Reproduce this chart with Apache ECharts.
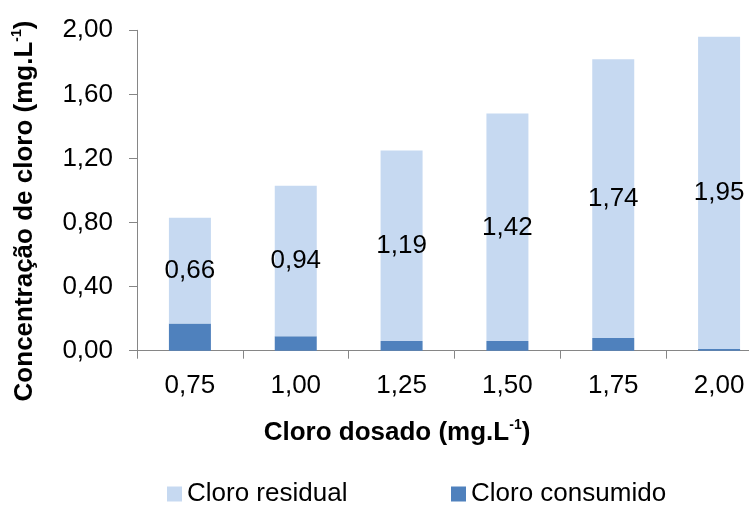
<!DOCTYPE html>
<html>
<head>
<meta charset="utf-8">
<script src="https://cdn.jsdelivr.net/npm/echarts@6/dist/echarts.min.js"></script>
<style>html,body{margin:0;padding:0;background:#fff;overflow:hidden;width:749px;height:505px}#c{width:773px;height:505px}</style>
</head>
<body>
<div id="c"></div>
<script>
const categories = ['0,75', '1,00', '1,25', '1,50', '1,75', '2,00'];
const cloroConsumido = [0.17, 0.09, 0.06, 0.06, 0.08, 0.01];
const cloroResidual = [0.66, 0.94, 1.19, 1.42, 1.74, 1.95];
const yTicks = { min: 0, max: 2, interval: 0.4 };

const FONT = '"Liberation Sans", Arial, sans-serif';
const FS = 26;
const fmt = v => v.toFixed(2).replace('.', ',');

const chart = echarts.init(document.getElementById('c'), null, { renderer: 'canvas' });
const richTitle = {
  b: { fontFamily: FONT, fontSize: FS, fontWeight: 'bold', fill: '#000', color: '#000', lineHeight: 30 },
  s: { fontFamily: FONT, fontSize: 14, fontWeight: 'bold', fill: '#000', color: '#000', verticalAlign: 'top', lineHeight: 30, padding: [0, 0, 12, 0] }
};
chart.setOption({
  animation: false,
  backgroundColor: '#fff',
  textStyle: { fontFamily: FONT },
  grid: { left: 137, top: 30.3, bottom: 154.3, right: 1, containLabel: false },
  legend: [
    { data: ['Cloro residual'], left: 167, top: 480, padding: 0, itemWidth: 15, itemHeight: 15, icon: 'rect',
      textStyle: { fontFamily: FONT, fontSize: FS, color: '#000', lineHeight: 28 } },
    { data: ['Cloro consumido'], left: 451, top: 480, padding: 0, itemWidth: 15, itemHeight: 15, icon: 'rect',
      textStyle: { fontFamily: FONT, fontSize: FS, color: '#000', lineHeight: 28 } }
  ],
  xAxis: {
    type: 'category',
    data: categories,
    axisLine: { lineStyle: { color: '#868686', width: 1 } },
    axisTick: { show: true, length: 8, lineStyle: { color: '#868686' } },
    axisLabel: { margin: 22, fontSize: FS, color: '#000', fontFamily: FONT }
  },
  yAxis: {
    type: 'value',
    min: yTicks.min, max: yTicks.max, interval: yTicks.interval,
    splitLine: { show: false },
    axisLine: { show: true, lineStyle: { color: '#868686', width: 1 } },
    axisTick: { show: true, length: 8, lineStyle: { color: '#868686' } },
    axisLabel: { margin: 24, fontSize: FS, color: '#000', fontFamily: FONT, formatter: v => fmt(v) }
  },
  series: [
    { name: 'Cloro consumido', type: 'bar', stack: 's', data: cloroConsumido, barWidth: 42,
      itemStyle: { color: '#4F81BD' } },
    { name: 'Cloro residual', type: 'bar', stack: 's', data: cloroResidual, barWidth: 42,
      itemStyle: { color: '#C6D9F1' },
      label: { show: true, position: 'inside', fontSize: FS, color: '#000', fontFamily: FONT,
        formatter: p => fmt(p.value) } }
  ],
  graphic: [
    { type: 'text', x: 25, y: 211, rotation: Math.PI / 2,
      style: { text: '{b|Concentração de cloro (mg.L}{s|-1}{b|)}', align: 'center', verticalAlign: 'middle', rich: richTitle } },
    { type: 'text', x: 397, y: 433,
      style: { text: '{b|Cloro dosado (mg.L}{s|-1}{b|)}', align: 'center', verticalAlign: 'middle', rich: richTitle } }
  ]
});
</script>
</body>
</html>
